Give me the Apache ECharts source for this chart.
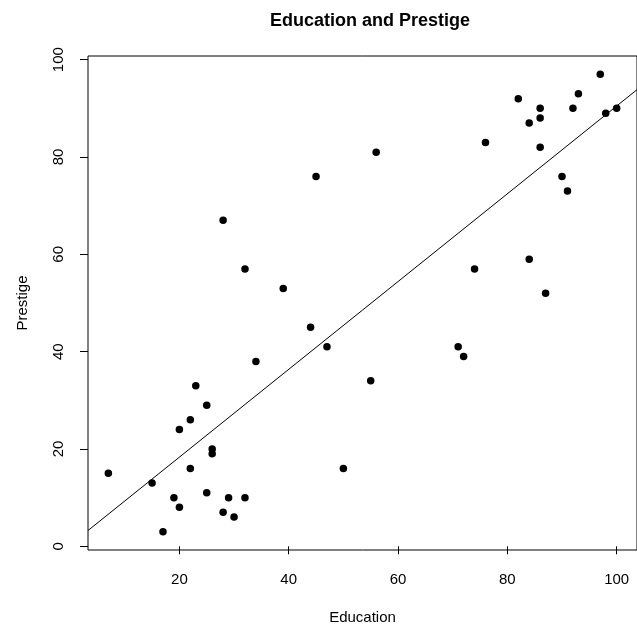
<!DOCTYPE html>
<html>
<head>
<meta charset="utf-8">
<script src="https://cdn.jsdelivr.net/npm/echarts@6/dist/echarts.min.js"></script>
<style>html,body{margin:0;padding:0;background:#fff}#c{width:637px;height:630px}</style>
</head>
<body>
<div id="c"></div>
<script>
// Duncan occupations: education (x) and prestige (y)
var education = [86,76,92,90,86,84,93,100,87,86,74,98,97,84,91,34,45,56,44,82,72,55,71,50,23,39,28,32,22,25,29,7,26,19,15,20,26,28,17,22,30,25,20,47,32];
var prestige  = [82,83,90,76,90,87,93,90,52,88,57,89,97,59,73,38,76,81,45,92,39,34,41,16,33,53,67,57,26,29,10,15,19,10,13,24,20,7,3,16,6,11,8,41,10];
var xTicks = [20,40,60,80,100];
var yTicks = [0,20,40,60,80,100];
// least-squares fit prestige ~ education
var fitIntercept = 0.2840;
var fitSlope = 0.9020;

var xMin = 3.28, xMax = 103.72, yMin = -0.76, yMax = 100.76;
var pts = education.map(function(e,i){return [e, prestige[i]];});
var fitLine = [[xMin, fitIntercept + fitSlope*xMin],[xMax, fitIntercept + fitSlope*xMax]];
var font = 'Liberation Sans, Arial, sans-serif';

var chart = echarts.init(document.getElementById('c'), null, {renderer:'canvas'});
chart.setOption({
  animation:false,
  backgroundColor:'#fff',
  title:{text:'Education and Prestige', left:365, textAlign:'center', top:7,
    textStyle:{fontFamily:font, fontWeight:'bold', fontSize:18, color:'#000'}},
  grid:{left:88, top:56, width:553, height:495, show:true, borderColor:'#000', borderWidth:1, backgroundColor:'transparent'},
  xAxis:{type:'value', min:xMin, max:xMax,
    name:'Education', nameLocation:'middle', nameGap:60,
    nameTextStyle:{fontFamily:font, fontSize:15, color:'#000'},
    axisLine:{show:false}, splitLine:{show:false},
    axisTick:{show:true, inside:false, length:8, customValues:xTicks, lineStyle:{color:'#000'}},
    axisLabel:{customValues:xTicks, margin:22, fontFamily:font, fontSize:15, color:'#000'}},
  yAxis:{type:'value', min:yMin, max:yMax,
    name:'Prestige', nameLocation:'middle', nameGap:58, nameRotate:90,
    nameTextStyle:{fontFamily:font, fontSize:15, color:'#000'},
    axisLine:{show:false}, splitLine:{show:false},
    axisTick:{show:true, inside:false, length:8, customValues:yTicks, lineStyle:{color:'#000'}},
    axisLabel:{customValues:yTicks, rotate:90, margin:22, fontFamily:font, fontSize:15, color:'#000'}},
  series:[
    {type:'scatter', data:pts, symbol:'circle', symbolSize:7.5, itemStyle:{color:'#000', opacity:1}, silent:true},
    {type:'line', data:fitLine, symbol:'none', lineStyle:{color:'#000', width:1}, silent:true}
  ]
});
</script>
</body>
</html>
